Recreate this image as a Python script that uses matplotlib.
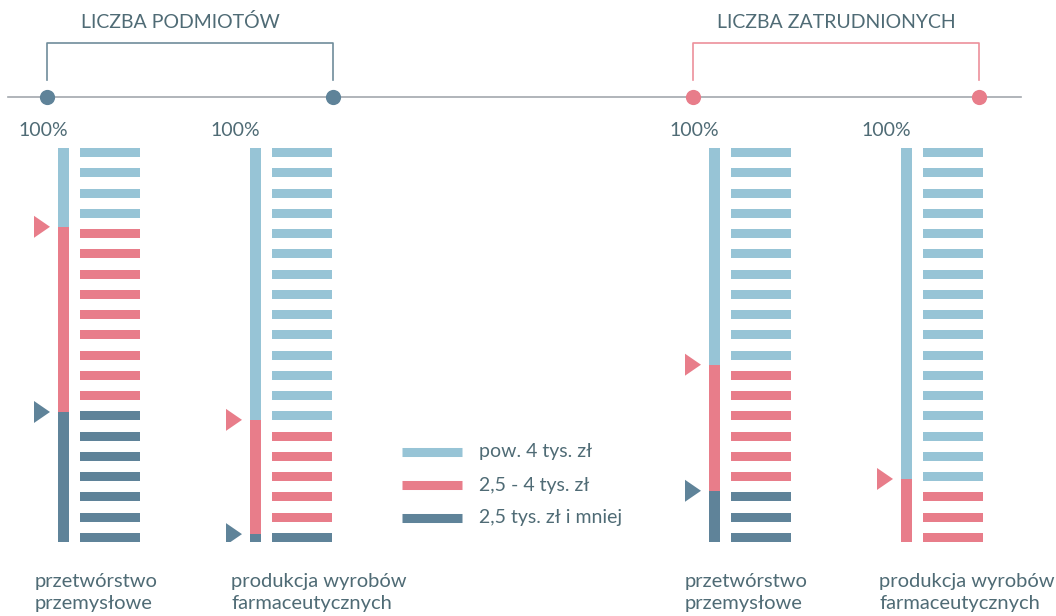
import numpy as np
import matplotlib.pyplot as plt
from matplotlib.patches import Polygon

plt.rcParams['font.family'] = ['Lato', 'DejaVu Sans']

# shares (%) of each wage band, from top to bottom of the column
groups = ["przetwórstwo\nprzemysłowe", "produkcja wyrobów\nfarmaceutycznych",
          "przetwórstwo\nprzemysłowe", "produkcja wyrobów\nfarmaceutycznych"]
high = [20, 69, 55, 84]      # pow. 4 tys. zł
mid = [47, 29, 32, 16]       # 2,5 - 4 tys. zł
low = [33, 2, 13, 0]         # 2,5 tys. zł i mniej
# number of 5% dashes per band
dash_high = [4, 14, 11, 17]
dash_mid = [9, 5, 6, 3]
dash_low = [7, 1, 3, 0]

legend_labels = ["pow. 4 tys. zł", "2,5 - 4 tys. zł", "2,5 tys. zł i mniej"]
section_titles = ["LICZBA PODMIOTÓW", "LICZBA ZATRUDNIONYCH"]

c_high = "#97c4d6"
c_mid = "#e87d8a"
c_low = "#5f8399"
c_text = "#4f6b75"

W, H = 1056, 616
fig = plt.figure(figsize=(W / 100, H / 100), dpi=100)

# overlay axes in pixel units for the timeline, brackets and labels
ov = fig.add_axes([0, 0, 1, 1])
ov.set_xlim(0, W)
ov.set_ylim(H, 0)
ov.axis("off")

bar_left = [58, 250, 709, 901]
label_x = [35, 231, 685, 879]
top_px, bot_px = 148, 542
px_per_pct = (bot_px - top_px) / 100

# timeline with two brackets
ov.plot([8, 1021], [97, 97], color="#a3a8ae", lw=1.2, zorder=1)
for (x0, x1), col, lcol, title, tx in zip([(47, 333), (693, 979)],
                                          [c_low, c_mid],
                                          ["#6f8c9b", "#ec909b"],
                                          section_titles, [180, 836]):
    ov.plot([x0, x0, x1, x1], [80, 43, 43, 80], color=lcol, lw=1.2, zorder=1)
    ov.scatter([x0, x1], [97, 97], s=120, color=col, zorder=3, linewidths=0)
    ov.text(tx, 22, title, color=c_text, fontsize=14, ha="center",
            va="center")

dash_h = 9 / px_per_pct
tri_h = 11 / px_per_pct

for i, bl in enumerate(bar_left):
    ax = fig.add_axes([(bl - 30) / W, (H - bot_px) / H, 115 / W,
                       (bot_px - top_px) / H])
    ax.set_xlim(-30, 85)
    ax.set_ylim(0, 100)
    ax.axis("off")

    # stacked vertical bar
    ax.bar(5.5, low[i], width=11, bottom=0, color=c_low, linewidth=0)
    ax.bar(5.5, mid[i], width=11, bottom=low[i], color=c_mid, linewidth=0)
    ax.bar(5.5, high[i], width=11, bottom=low[i] + mid[i], color=c_high,
           linewidth=0)

    # 20 dashes, 5% each
    colors = [c_high] * dash_high[i] + [c_mid] * dash_mid[i] + [c_low] * dash_low[i]
    ys = np.linspace(100 - dash_h / 2, dash_h / 2, len(colors))
    ax.barh(ys, 60, height=dash_h, left=22, color=colors, linewidth=0)

    # markers at band boundaries
    for val, share, col in [(100 - high[i], mid[i], c_mid), (low[i], low[i], c_low)]:
        if share <= 0:
            continue
        ax.add_patch(Polygon([(-24, val - tri_h), (-8, val), (-24, val + tri_h)],
                             closed=True, color=col, linewidth=0))

    ov.text(bl - 40, 131, "100%", color=c_text, fontsize=14, ha="left",
            va="center")
    for k, line in enumerate(groups[i].split("\n")):
        ov.text(label_x[i], 581 + k * 22, line, color=c_text, fontsize=14.5,
                ha="left", va="center")

# legend
for j, (lab, col) in enumerate(zip(legend_labels, [c_high, c_mid, c_low])):
    y = 452 + j * 33
    ov.plot([402, 462], [y, y], color=col, lw=6.5, solid_capstyle="butt")
    ov.text(479, y, lab, color=c_text, fontsize=14, ha="left", va="center")

fig.savefig("out.png", dpi=100)
